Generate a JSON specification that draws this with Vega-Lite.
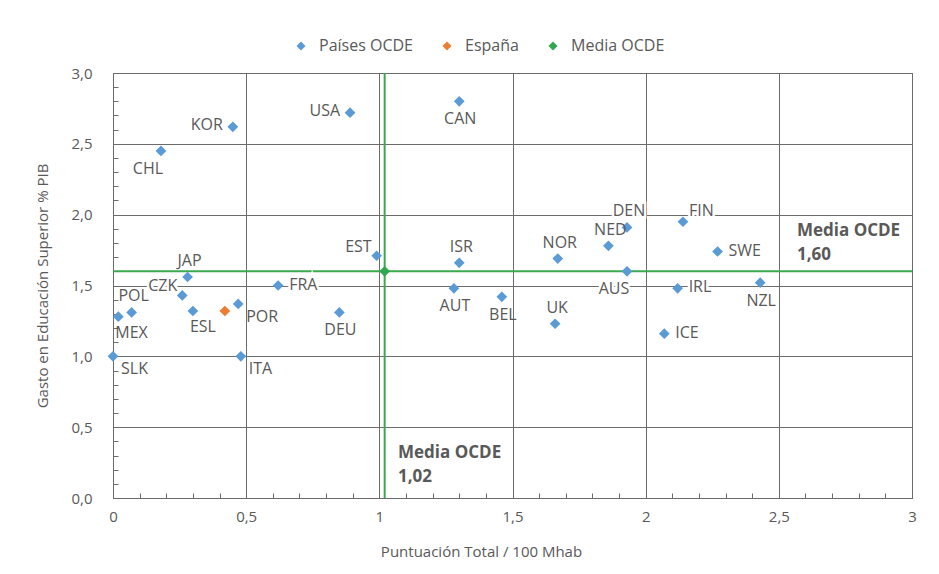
{
  "$schema": "https://vega.github.io/schema/vega-lite/v6.json",
  "width": 799,
  "height": 425,
  "autosize": {"type": "none"},
  "padding": {"left": 113, "top": 73, "right": 27, "bottom": 76},
  "background": "white",
  "config": {
    "font": "Open Sans",
    "view": {"stroke": "#6b6b6b", "strokeWidth": 1},
    "axis": {
      "gridColor": "#6b6b6b",
      "gridWidth": 1,
      "domainColor": "#6b6b6b",
      "tickColor": "#6b6b6b",
      "labelColor": "#595959",
      "titleColor": "#595959",
      "labelFont": "Open Sans",
      "titleFont": "Open Sans",
      "labelFontSize": 15,
      "titleFontSize": 15,
      "titleFontWeight": "normal",
      "labelOverlap": false,
      "labelBound": false,
      "tickCount": 60
    },
    "legend": {"labelColor": "#595959", "labelFont": "Open Sans", "labelFontSize": 16}
  },
  "datasets": {
    "puntos": [
      {"pais": "SLK", "serie": "Países OCDE", "x": 0.0, "y": 1.00},
      {"pais": "MEX", "serie": "Países OCDE", "x": 0.02, "y": 1.28},
      {"pais": "POL", "serie": "Países OCDE", "x": 0.07, "y": 1.31},
      {"pais": "CZK", "serie": "Países OCDE", "x": 0.26, "y": 1.43},
      {"pais": "JAP", "serie": "Países OCDE", "x": 0.28, "y": 1.56},
      {"pais": "ESL", "serie": "Países OCDE", "x": 0.30, "y": 1.32},
      {"pais": "POR", "serie": "Países OCDE", "x": 0.47, "y": 1.37},
      {"pais": "ITA", "serie": "Países OCDE", "x": 0.48, "y": 1.00},
      {"pais": "KOR", "serie": "Países OCDE", "x": 0.45, "y": 2.62},
      {"pais": "CHL", "serie": "Países OCDE", "x": 0.18, "y": 2.45},
      {"pais": "FRA", "serie": "Países OCDE", "x": 0.62, "y": 1.50},
      {"pais": "USA", "serie": "Países OCDE", "x": 0.89, "y": 2.72},
      {"pais": "CAN", "serie": "Países OCDE", "x": 1.30, "y": 2.80},
      {"pais": "EST", "serie": "Países OCDE", "x": 0.99, "y": 1.71},
      {"pais": "DEU", "serie": "Países OCDE", "x": 0.85, "y": 1.31},
      {"pais": "ISR", "serie": "Países OCDE", "x": 1.30, "y": 1.66},
      {"pais": "AUT", "serie": "Países OCDE", "x": 1.28, "y": 1.48},
      {"pais": "BEL", "serie": "Países OCDE", "x": 1.46, "y": 1.42},
      {"pais": "NOR", "serie": "Países OCDE", "x": 1.67, "y": 1.69},
      {"pais": "NED", "serie": "Países OCDE", "x": 1.86, "y": 1.78},
      {"pais": "DEN", "serie": "Países OCDE", "x": 1.93, "y": 1.91},
      {"pais": "AUS", "serie": "Países OCDE", "x": 1.93, "y": 1.60},
      {"pais": "UK", "serie": "Países OCDE", "x": 1.66, "y": 1.23},
      {"pais": "ICE", "serie": "Países OCDE", "x": 2.07, "y": 1.16},
      {"pais": "IRL", "serie": "Países OCDE", "x": 2.12, "y": 1.48},
      {"pais": "FIN", "serie": "Países OCDE", "x": 2.14, "y": 1.95},
      {"pais": "SWE", "serie": "Países OCDE", "x": 2.27, "y": 1.74},
      {"pais": "NZL", "serie": "Países OCDE", "x": 2.43, "y": 1.52},
      {"pais": "ESP", "serie": "España", "x": 0.42, "y": 1.32},
      {"pais": "OCDE", "serie": "Media OCDE", "x": 1.02, "y": 1.60}
    ],
    "medias": [{"mx": 1.02, "my": 1.60}],
    "notas": [
      {"nx": 2.568, "ny": 1.94, "nota": "Media OCDE\n1,60"},
      {"nx": 1.07, "ny": 0.375, "nota": "Media OCDE\n1,02"}
    ]
  },
  "layer": [
    {
      "data": {"name": "medias"},
      "mark": {"type": "rule", "color": "#3BAA4E", "strokeWidth": 2},
      "encoding": {"y": {"field": "my", "type": "quantitative", "scale": {"domain": [0, 3]}}}
    },
    {
      "data": {"name": "medias"},
      "mark": {"type": "rule", "color": "#3BAA4E", "strokeWidth": 2},
      "encoding": {"x": {"field": "mx", "type": "quantitative", "scale": {"domain": [0, 3]}}}
    },
    {
      "data": {"name": "puntos"},
      "transform": [{"filter": {"field": "pais", "oneOf": ["DEN"]}}],
      "mark": {"type": "text", "fontSize": 16, "color": "white", "stroke": "white", "strokeWidth": 5, "align": "center", "baseline": "middle", "dx": 2, "dy": -16},
      "encoding": {"x": {"field": "x", "type": "quantitative"}, "y": {"field": "y", "type": "quantitative"}, "text": {"field": "pais"}}
    },
    {
      "data": {"name": "puntos"},
      "transform": [{"filter": {"field": "pais", "oneOf": ["AUS"]}}],
      "mark": {"type": "text", "fontSize": 16, "color": "white", "stroke": "white", "strokeWidth": 5, "align": "center", "baseline": "middle", "dx": -13, "dy": 18},
      "encoding": {"x": {"field": "x", "type": "quantitative"}, "y": {"field": "y", "type": "quantitative"}, "text": {"field": "pais"}}
    },
    {
      "data": {"name": "puntos"},
      "transform": [{"filter": {"field": "pais", "oneOf": ["CZK"]}}],
      "mark": {"type": "text", "fontSize": 16, "color": "white", "stroke": "white", "strokeWidth": 5, "align": "right", "baseline": "middle", "dx": -5, "dy": -9},
      "encoding": {"x": {"field": "x", "type": "quantitative"}, "y": {"field": "y", "type": "quantitative"}, "text": {"field": "pais"}}
    },
    {
      "data": {"name": "puntos"},
      "transform": [{"filter": {"field": "pais", "oneOf": ["FRA", "IRL"]}}],
      "mark": {"type": "text", "fontSize": 16, "color": "white", "stroke": "white", "strokeWidth": 5, "align": "left", "baseline": "middle", "dx": 11, "dy": -1},
      "encoding": {"x": {"field": "x", "type": "quantitative"}, "y": {"field": "y", "type": "quantitative"}, "text": {"field": "pais"}}
    },
    {
      "data": {"name": "puntos"},
      "transform": [{"filter": {"field": "pais", "oneOf": ["FIN"]}}],
      "mark": {"type": "text", "fontSize": 16, "color": "white", "stroke": "white", "strokeWidth": 5, "align": "left", "baseline": "middle", "dx": 6, "dy": -11},
      "encoding": {"x": {"field": "x", "type": "quantitative"}, "y": {"field": "y", "type": "quantitative"}, "text": {"field": "pais"}}
    },
    {
      "data": {"name": "puntos"},
      "mark": {"type": "point", "shape": "diamond", "filled": true, "size": 115, "opacity": 1},
      "encoding": {
        "x": {
          "field": "x", "type": "quantitative",
          "scale": {"domain": [0, 3], "nice": false, "zero": false},
          "axis": {
            "title": "Puntuación Total / 100 Mhab",
            "values": [0,0.1,0.2,0.3,0.4,0.5,0.6,0.7,0.8,0.9,1,1.1,1.2,1.3,1.4,1.5,1.6,1.7,1.8,1.9,2,2.1,2.2,2.3,2.4,2.5,2.6,2.7,2.8,2.9,3],
            "tickCount": 60,
            "labelExpr": "abs(datum.value*2-round(datum.value*2))<0.001 ? replace(''+datum.value,'.',',') : ''",
            "gridOpacity": {"condition": {"test": "abs(datum.value*2-round(datum.value*2))<0.001", "value": 1}, "value": 0},
            "tickSize": -5,
            "labelPadding": 16,
            "titlePadding": 20,
            "titleX": 368,
            "labelFlush": false
          }
        },
        "y": {
          "field": "y", "type": "quantitative",
          "scale": {"domain": [0, 3], "nice": false, "zero": false},
          "axis": {
            "title": "Gasto en Educación Superior % PIB",
            "values": [0,0.1,0.2,0.3,0.4,0.5,0.6,0.7,0.8,0.9,1,1.1,1.2,1.3,1.4,1.5,1.6,1.7,1.8,1.9,2,2.1,2.2,2.3,2.4,2.5,2.6,2.7,2.8,2.9,3],
            "tickCount": 60,
            "labelExpr": "abs(datum.value*2-round(datum.value*2))<0.001 ? replace(format(datum.value,'.1f'),'.',',') : ''",
            "gridOpacity": {"condition": {"test": "abs(datum.value*2-round(datum.value*2))<0.001", "value": 1}, "value": 0},
            "tickSize": -5,
            "labelPadding": 26,
            "titlePadding": 20
          }
        },
        "color": {
          "field": "serie", "type": "nominal",
          "scale": {"domain": ["Países OCDE", "España", "Media OCDE"], "range": ["#5B9BD5", "#ED7D31", "#2FA84F"]},
          "legend": {
            "title": null, "orient": "none", "direction": "horizontal",
            "legendX": 180, "legendY": -35,
            "symbolType": "diamond", "symbolSize": 80, "columnPadding": 26, "labelOffset": 10
          }
        }
      }
    },
    {
      "data": {"name": "puntos"},
      "transform": [{"filter": {"field": "pais", "oneOf": ["JAP", "ISR", "DEN", "NOR", "UK", "NED", "POL"]}}],
      "mark": {"type": "text", "fontSize": 16, "color": "#595959", "align": "center", "baseline": "middle", "dx": 2, "dy": -16},
      "encoding": {"x": {"field": "x", "type": "quantitative"}, "y": {"field": "y", "type": "quantitative"}, "text": {"field": "pais"}}
    },
    {
      "data": {"name": "puntos"},
      "transform": [{"filter": {"field": "pais", "oneOf": ["CAN", "AUT", "BEL", "DEU", "NZL"]}}],
      "mark": {"type": "text", "fontSize": 16, "color": "#595959", "align": "center", "baseline": "middle", "dx": 1, "dy": 18},
      "encoding": {"x": {"field": "x", "type": "quantitative"}, "y": {"field": "y", "type": "quantitative"}, "text": {"field": "pais"}}
    },
    {
      "data": {"name": "puntos"},
      "transform": [{"filter": {"field": "pais", "oneOf": ["CHL", "AUS"]}}],
      "mark": {"type": "text", "fontSize": 16, "color": "#595959", "align": "center", "baseline": "middle", "dx": -13, "dy": 18},
      "encoding": {"x": {"field": "x", "type": "quantitative"}, "y": {"field": "y", "type": "quantitative"}, "text": {"field": "pais"}}
    },
    {
      "data": {"name": "puntos"},
      "transform": [{"filter": {"field": "pais", "oneOf": ["POR", "SLK", "ITA"]}}],
      "mark": {"type": "text", "fontSize": 16, "color": "#595959", "align": "left", "baseline": "middle", "dx": 8, "dy": 13},
      "encoding": {"x": {"field": "x", "type": "quantitative"}, "y": {"field": "y", "type": "quantitative"}, "text": {"field": "pais"}}
    },
    {
      "data": {"name": "puntos"},
      "transform": [{"filter": {"field": "pais", "oneOf": ["MEX", "ESL"]}}],
      "mark": {"type": "text", "fontSize": 16, "color": "#595959", "align": "left", "baseline": "middle", "dx": -3, "dy": 16},
      "encoding": {"x": {"field": "x", "type": "quantitative"}, "y": {"field": "y", "type": "quantitative"}, "text": {"field": "pais"}}
    },
    {
      "data": {"name": "puntos"},
      "transform": [{"filter": {"field": "pais", "oneOf": ["KOR", "USA"]}}],
      "mark": {"type": "text", "fontSize": 16, "color": "#595959", "align": "right", "baseline": "middle", "dx": -10, "dy": -2},
      "encoding": {"x": {"field": "x", "type": "quantitative"}, "y": {"field": "y", "type": "quantitative"}, "text": {"field": "pais"}}
    },
    {
      "data": {"name": "puntos"},
      "transform": [{"filter": {"field": "pais", "oneOf": ["CZK", "EST"]}}],
      "mark": {"type": "text", "fontSize": 16, "color": "#595959", "align": "right", "baseline": "middle", "dx": -5, "dy": -9},
      "encoding": {"x": {"field": "x", "type": "quantitative"}, "y": {"field": "y", "type": "quantitative"}, "text": {"field": "pais"}}
    },
    {
      "data": {"name": "puntos"},
      "transform": [{"filter": {"field": "pais", "oneOf": ["FRA", "IRL", "ICE", "SWE"]}}],
      "mark": {"type": "text", "fontSize": 16, "color": "#595959", "align": "left", "baseline": "middle", "dx": 11, "dy": -1},
      "encoding": {"x": {"field": "x", "type": "quantitative"}, "y": {"field": "y", "type": "quantitative"}, "text": {"field": "pais"}}
    },
    {
      "data": {"name": "puntos"},
      "transform": [{"filter": {"field": "pais", "oneOf": ["FIN"]}}],
      "mark": {"type": "text", "fontSize": 16, "color": "#595959", "align": "left", "baseline": "middle", "dx": 6, "dy": -11},
      "encoding": {"x": {"field": "x", "type": "quantitative"}, "y": {"field": "y", "type": "quantitative"}, "text": {"field": "pais"}}
    },
    {
      "data": {"name": "notas"},
      "mark": {"type": "text", "fontSize": 17, "fontWeight": "bold", "color": "#595959", "align": "left", "baseline": "top", "lineBreak": "\n", "lineHeight": 24},
      "encoding": {"x": {"field": "nx", "type": "quantitative"}, "y": {"field": "ny", "type": "quantitative"}, "text": {"field": "nota"}}
    }
  ]
}
